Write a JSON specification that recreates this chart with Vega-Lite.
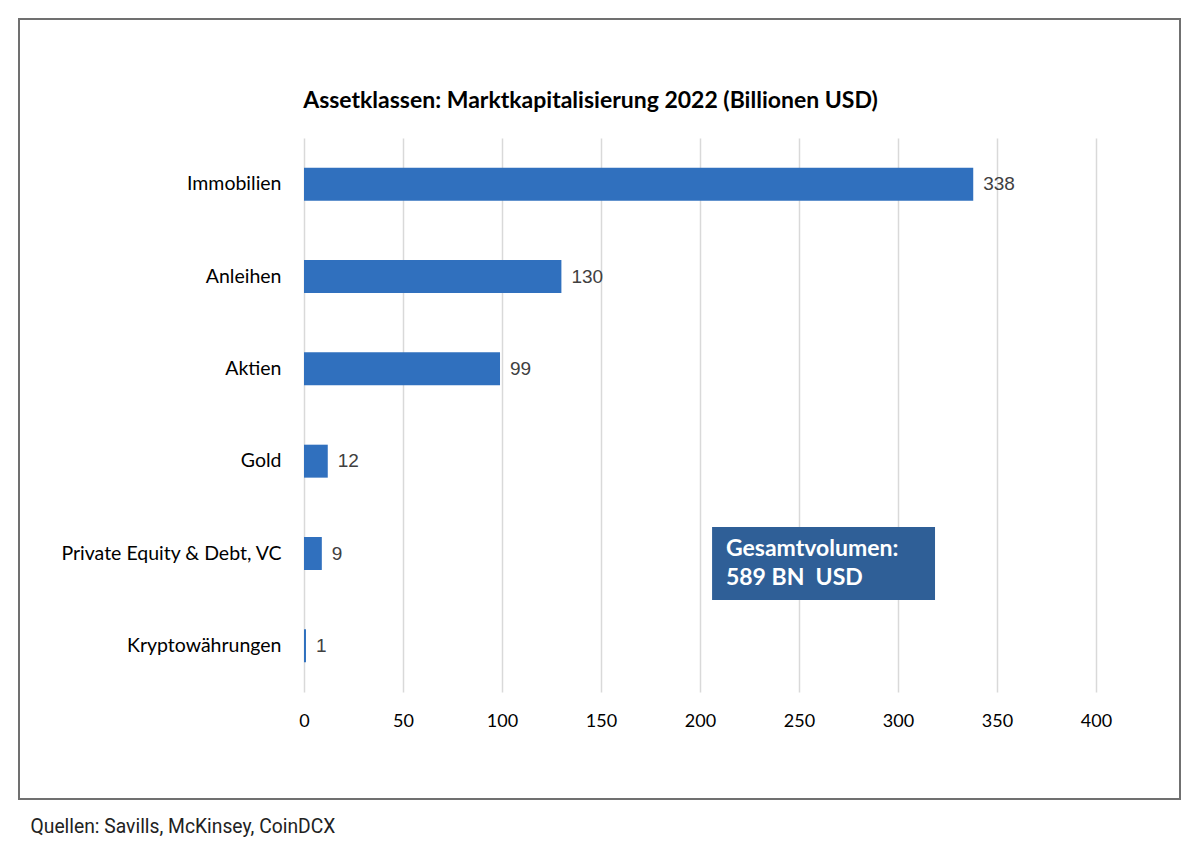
{
  "$schema": "https://vega.github.io/schema/vega-lite/v6.json",
  "width": 1161,
  "height": 780,
  "autosize": {"type": "none"},
  "padding": {"left": 19, "top": 19, "right": 20, "bottom": 57},
  "background": "white",
  "title": {
    "text": "Assetklassen: Marktkapitalisierung 2022 (Billionen USD)",
    "font": "Lato",
    "fontSize": 23,
    "fontWeight": "bold",
    "color": "black",
    "anchor": "middle",
    "frame": "group",
    "offset": -112,
    "baseline": "alphabetic",
    "dx": -9
  },
  "config": {"view": {"stroke": "#707070", "strokeWidth": 2}},
  "data": {
    "values": [
      {"asset": "Immobilien", "value": 338},
      {"asset": "Anleihen", "value": 130},
      {"asset": "Aktien", "value": 99},
      {"asset": "Gold", "value": 12},
      {"asset": "Private Equity & Debt, VC", "value": 9},
      {"asset": "Kryptowährungen", "value": 1}
    ]
  },
  "layer": [
    {
      "mark": {"type": "bar", "color": "#3070be"},
      "encoding": {
        "y": {
          "field": "asset",
          "type": "nominal",
          "sort": null,
          "scale": {
            "domain": ["Immobilien", "Anleihen", "Aktien", "Gold", "Private Equity & Debt, VC", "Kryptowährungen"],
            "range": [119, 673],
            "paddingInner": 0.643,
            "paddingOuter": 0.3215
          },
          "axis": {
            "title": null,
            "domain": false,
            "ticks": false,
            "grid": false,
            "offset": -285,
            "labelPadding": 23,
            "labelLimit": 0,
            "labelFont": "Lato",
            "labelFontSize": 19.5,
            "labelColor": "black"
          }
        },
        "x": {
          "field": "value",
          "type": "quantitative",
          "scale": {"domain": [0, 400], "range": [285, 1077], "nice": false, "zero": true},
          "axis": {
            "orient": "top",
            "values": [0, 50, 100, 150, 200, 250, 300, 350, 400],
            "title": "Quellen: Savills, McKinsey, CoinDCX",
            "domain": false,
            "ticks": false,
            "tickSize": 0,
            "grid": true,
            "gridColor": "#d9d9d9",
            "gridWidth": 1.5,
            "offset": -673,
            "labelPadding": -20,
            "labelBaseline": "top",
            "labelFlush": false,
            "labelFont": "Lato",
            "labelFontSize": 18,
            "labelColor": "black",
            "titleFont": "Roboto",
            "titleFontSize": 19.3,
            "titleFontWeight": "normal",
            "titleColor": "#222222",
            "titleX": 11,
            "titleY": 140,
            "titleAlign": "left",
            "titleAnchor": "start",
            "titleBaseline": "alphabetic"
          }
        }
      }
    },
    {
      "mark": {"type": "text", "align": "left", "baseline": "middle", "dx": 10, "font": "Liberation Sans", "fontSize": 19, "color": "#404040"},
      "encoding": {
        "y": {"field": "asset", "type": "nominal", "sort": null},
        "x": {"field": "value", "type": "quantitative"},
        "text": {"field": "value", "type": "quantitative"}
      }
    },
    {
      "data": {"values": [{}]},
      "mark": {"type": "bar", "color": "#2f5f97", "height": 73, "yOffset": 10},
      "encoding": {
        "x": {"datum": 206.1, "type": "quantitative"},
        "x2": {"datum": 318.7},
        "y": {"datum": "Private Equity & Debt, VC", "type": "nominal"}
      }
    },
    {
      "data": {"values": [{}]},
      "mark": {
        "type": "text",
        "text": ["Gesamtvolumen:", "589 BN\u00a0 USD"],
        "align": "left",
        "baseline": "alphabetic",
        "dy": 2,
        "lineHeight": 29,
        "font": "Lato",
        "fontWeight": "bold",
        "fontSize": 23,
        "color": "white"
      },
      "encoding": {
        "x": {"datum": 213.1, "type": "quantitative"},
        "y": {"datum": "Private Equity & Debt, VC", "type": "nominal"}
      }
    }
  ]
}
